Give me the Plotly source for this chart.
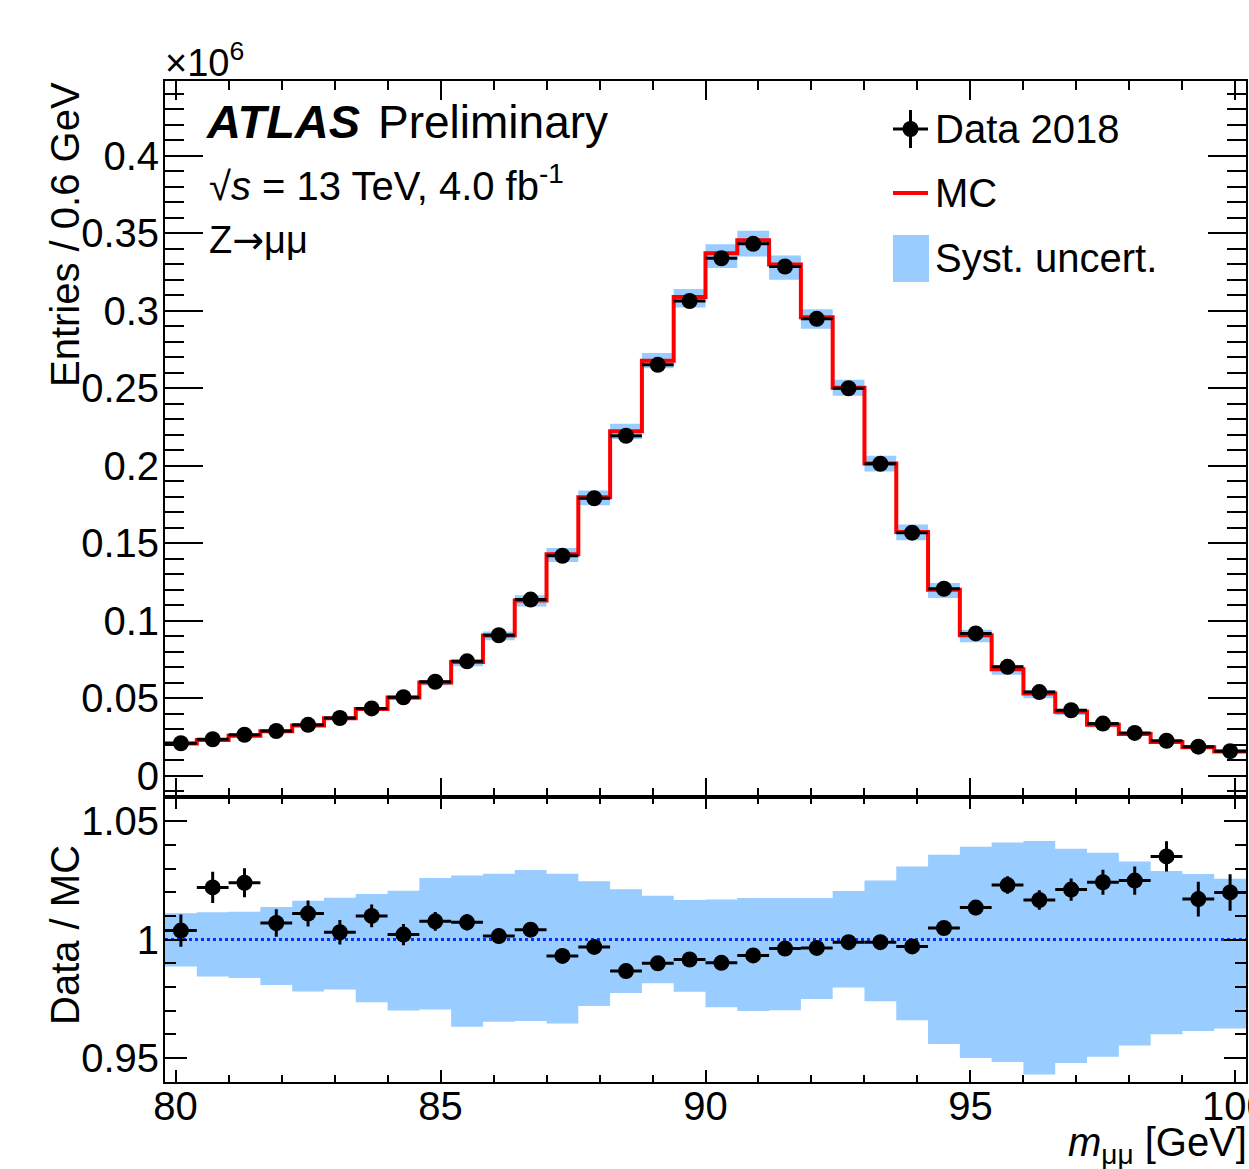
import plotly.graph_objects as go

# ---------------- data (values in units of 10^6 entries) ----------------
bin_centers = [80.1, 80.7, 81.3, 81.9, 82.5, 83.1, 83.7, 84.3, 84.9, 85.5,
               86.1, 86.7, 87.3, 87.9, 88.5, 89.1, 89.7, 90.3, 90.9, 91.5,
               92.1, 92.7, 93.3, 93.9, 94.5, 95.1, 95.7, 96.3, 96.9, 97.5,
               98.1, 98.7, 99.3, 99.9]
bin_half_width = 0.3

data_2018 = [0.0209, 0.0235, 0.0264, 0.0288, 0.0328, 0.0372, 0.0434, 0.0506, 0.0606, 0.0738,
             0.0906, 0.1136, 0.1419, 0.1790, 0.2193, 0.2651, 0.3063, 0.3339, 0.3432, 0.3286,
             0.2948, 0.2500, 0.2013, 0.1568, 0.1206, 0.0918, 0.0702, 0.0539, 0.0422, 0.0336,
             0.0276, 0.0225, 0.0187, 0.0158]

mc = [0.0208, 0.0230, 0.0258, 0.0286, 0.0324, 0.0371, 0.0430, 0.0505, 0.0601, 0.0733,
      0.0905, 0.1131, 0.1429, 0.1796, 0.2223, 0.2678, 0.3089, 0.3372, 0.3455, 0.3299,
      0.2958, 0.2503, 0.2015, 0.1573, 0.1200, 0.0906, 0.0686, 0.0530, 0.0413, 0.0328,
      0.0269, 0.0217, 0.0184, 0.0155]

ratio = [1.0038, 1.0220, 1.0240, 1.0070, 1.0110, 1.0031, 1.0100, 1.0021, 1.0077, 1.0073,
         1.0015, 1.0042, 0.9931, 0.9969, 0.9867, 0.9900, 0.9916, 0.9902, 0.9933, 0.9962,
         0.9965, 0.9989, 0.9989, 0.9971, 1.0049, 1.0135, 1.0230, 1.0167, 1.0211, 1.0242,
         1.0249, 1.0351, 1.0171, 1.0199]

ratio_err = [0.0068, 0.0066, 0.0061, 0.0058, 0.0055, 0.0052, 0.0048, 0.0045, 0.0040, 0.0035,
             0.0031, 0.0028, 0.0025, 0.0022, 0.0020, 0.0018, 0.0017, 0.0017, 0.0017, 0.0017,
             0.0018, 0.0020, 0.0022, 0.0025, 0.0028, 0.0032, 0.0037, 0.0041, 0.0047, 0.0053,
             0.0060, 0.0064, 0.0073, 0.0077]

syst_up = [1.0111, 1.0115, 1.0118, 1.0138, 1.0164, 1.0177, 1.0192, 1.0206, 1.0260, 1.0270,
           1.0278, 1.0294, 1.0278, 1.0246, 1.0213, 1.0185, 1.0167, 1.0169, 1.0176, 1.0176,
           1.0176, 1.0205, 1.0249, 1.0308, 1.0358, 1.0392, 1.0410, 1.0416, 1.0383, 1.0367,
           1.0330, 1.0289, 1.0277, 1.0257]

syst_dn = [0.9886, 0.9844, 0.9838, 0.9808, 0.9781, 0.9789, 0.9736, 0.9701, 0.9705, 0.9632,
           0.9653, 0.9656, 0.9646, 0.9720, 0.9775, 0.9816, 0.9780, 0.9715, 0.9699, 0.9702,
           0.9749, 0.9798, 0.9740, 0.9660, 0.9559, 0.9500, 0.9483, 0.9431, 0.9479, 0.9506,
           0.9553, 0.9601, 0.9614, 0.9625]

x_range = [79.8, 100.2]
top_range = [-0.0136, 0.4483]
ratio_range = [0.9399, 1.0603]

# ---------------- helpers ----------------
edges = [c - bin_half_width for c in bin_centers] + [bin_centers[-1] + bin_half_width]


def step(vals):
    return list(vals) + [vals[-1]]


band_top_up = [m * u for m, u in zip(mc, syst_up)]
band_top_dn = [m * d for m, d in zip(mc, syst_dn)]

BAND = "#99ccff"
FONT = "Liberation Sans, Arial, Helvetica, sans-serif"
FS = 40

fig = go.Figure()

# top panel band
fig.add_trace(go.Scatter(x=edges, y=step(band_top_dn), mode="lines", line=dict(width=0, shape="hv"),
                         showlegend=False, hoverinfo="skip", xaxis="x", yaxis="y"))
fig.add_trace(go.Scatter(x=edges, y=step(band_top_up), mode="lines", line=dict(width=0, shape="hv"),
                         fill="tonexty", fillcolor=BAND, showlegend=False, hoverinfo="skip",
                         xaxis="x", yaxis="y"))
# MC step line
fig.add_trace(go.Scatter(x=edges, y=step(mc), mode="lines", line=dict(color="#ff0000", width=4, shape="hv"),
                         name="MC", showlegend=False, xaxis="x", yaxis="y"))
# data
fig.add_trace(go.Scatter(x=bin_centers, y=data_2018, mode="markers",
                         marker=dict(color="black", size=16, symbol="circle"),
                         error_x=dict(type="constant", value=bin_half_width, thickness=3, width=0, color="black"),
                         name="Data 2018", showlegend=False, xaxis="x", yaxis="y"))

# ratio band
fig.add_trace(go.Scatter(x=edges, y=step(syst_dn), mode="lines", line=dict(width=0, shape="hv"),
                         showlegend=False, hoverinfo="skip", xaxis="x2", yaxis="y2"))
fig.add_trace(go.Scatter(x=edges, y=step(syst_up), mode="lines", line=dict(width=0, shape="hv"),
                         fill="tonexty", fillcolor=BAND, showlegend=False, hoverinfo="skip",
                         xaxis="x2", yaxis="y2"))
# unity line
fig.add_trace(go.Scatter(x=x_range, y=[1, 1], mode="lines",
                         line=dict(color="#0a2dff", width=3, dash="dot"),
                         showlegend=False, hoverinfo="skip", xaxis="x2", yaxis="y2"))
# ratio points
fig.add_trace(go.Scatter(x=bin_centers, y=ratio, mode="markers",
                         marker=dict(color="black", size=16, symbol="circle"),
                         error_x=dict(type="constant", value=bin_half_width, thickness=3, width=0, color="black"),
                         error_y=dict(type="data", array=ratio_err, thickness=3, width=0, color="black"),
                         showlegend=False, xaxis="x2", yaxis="y2"))

axis_common = dict(showline=True, linecolor="black", linewidth=2, mirror="ticks",
                   ticks="inside", tickcolor="black", tickwidth=2, showgrid=False, zeroline=False,
                   ticklabeloverflow="allow", automargin=False,
                   tickfont=dict(family=FONT, size=FS, color="black"))

fig.update_layout(
    width=1249, height=1169,
    margin=dict(l=165, r=3, t=81, b=87),
    paper_bgcolor="white", plot_bgcolor="white",
    showlegend=False,
    font=dict(family=FONT, size=FS, color="black"),
    xaxis=dict(domain=[0, 1], anchor="y", range=x_range, tick0=80, dtick=5, ticklen=19,
               showticklabels=False,
               minor=dict(ticks="inside", dtick=1, ticklen=9, tickcolor="black", tickwidth=2),
               **axis_common),
    yaxis=dict(domain=[0.285, 1], anchor="x", range=top_range, tick0=0, dtick=0.05, ticklen=38,
               ticklabelstandoff=-4,
               minor=dict(ticks="inside", dtick=0.01, ticklen=19, tickcolor="black", tickwidth=2),
               **axis_common),
    xaxis2=dict(domain=[0, 1], anchor="y2", range=x_range, tick0=80, dtick=5, ticklen=12,
                matches="x", ticklabelstandoff=-12,
                minor=dict(ticks="inside", dtick=1, ticklen=7, tickcolor="black", tickwidth=2),
                **axis_common),
    yaxis2=dict(domain=[0, 0.285], anchor="x2", range=ratio_range, tick0=1, dtick=0.05, ticklen=22,
                ticklabelstandoff=-4,
                minor=dict(ticks="inside", dtick=0.01, ticklen=11, tickcolor="black", tickwidth=2),
                **axis_common),
)


def px(xp):
    return (xp - 165) / 1081.0


def py(yp):
    return (1082 - yp) / 1001.0


ann = []


def add_text(text, x, y, size=FS, xanchor="left", yanchor="middle", angle=0):
    ann.append(dict(text=text, x=x, y=y, xref="paper", yref="paper", xanchor=xanchor, yanchor=yanchor,
                    showarrow=False, textangle=angle, font=dict(family=FONT, size=size, color="black")))


add_text("×10<sup>6</sup>", px(163), py(60), size=38)
add_text("<b><i>ATLAS</i></b>", px(204), py(122), size=47)
add_text("Preliminary", px(376), py(122), size=46)
add_text("√<i>s</i> = 13 TeV, 4.0 fb<sup>-1</sup>", px(207), py(183), size=40)
add_text("Z<span style=\"font-family:'DejaVu Sans'\">→</span>μμ", px(207), py(240), size=38)
add_text("Data 2018", px(933), py(129), size=40)
add_text("MC", px(933), py(193), size=40)
add_text("Syst. uncert.", px(933), py(258), size=40)
add_text("Entries / 0.6 GeV", px(65), py(235), size=40, xanchor="center", angle=-90)
add_text("Data / MC", px(65), py(935), size=40, xanchor="center", angle=-90)
add_text("<i>m</i><sub>μμ</sub> [GeV]", px(1249), py(1145), size=40, xanchor="right")
fig.update_layout(annotations=ann)

shapes = [
    # data legend glyph
    dict(type="line", xref="paper", yref="paper", x0=px(893), x1=px(928), y0=py(129), y1=py(129),
         line=dict(color="black", width=3)),
    dict(type="line", xref="paper", yref="paper", x0=px(910.5), x1=px(910.5), y0=py(110), y1=py(148),
         line=dict(color="black", width=3)),
    dict(type="circle", xref="paper", yref="paper", x0=px(902.5), x1=px(918.5), y0=py(121), y1=py(137),
         fillcolor="black", line=dict(color="black", width=0)),
    # MC legend glyph
    dict(type="line", xref="paper", yref="paper", x0=px(893), x1=px(928), y0=py(193), y1=py(193),
         line=dict(color="#ff0000", width=4)),
    # syst legend glyph
    dict(type="rect", xref="paper", yref="paper", x0=px(893), x1=px(929), y0=py(235), y1=py(282),
         fillcolor=BAND, line=dict(width=0)),
]
fig.update_layout(shapes=shapes)

fig.write_html("out.html")
